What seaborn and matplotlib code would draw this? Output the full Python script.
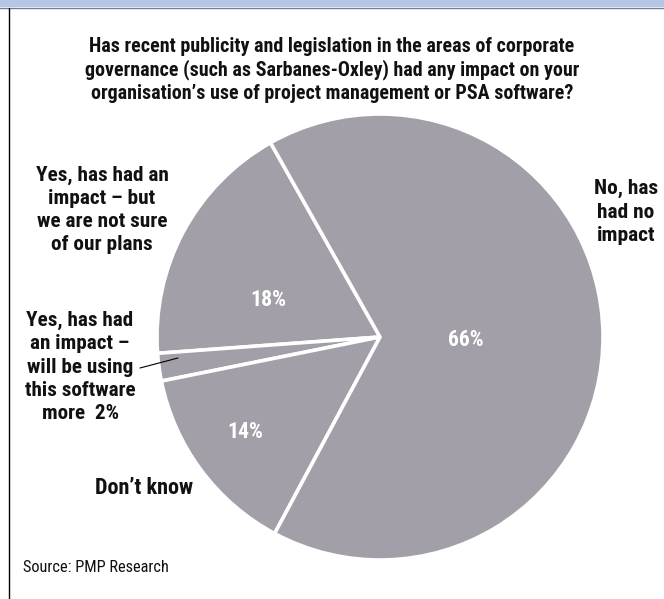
import matplotlib
matplotlib.use("Agg")
import matplotlib.pyplot as plt
import seaborn as sns
from matplotlib import font_manager
from matplotlib.patches import Rectangle
from matplotlib.lines import Line2D

# Data
categories = ["Yes, has had an impact \u2013 but we are not sure of our plans",
              "Yes, has had an impact \u2013 will be using this software more",
              "Don\u2019t know",
              "No, has had no impact"]
values = [18, 2, 14, 66]
pct_labels = ["18%", "", "14%", "66%"]

title = ("Has recent publicity and legislation in the areas of corporate\n"
         "governance (such as Sarbanes-Oxley) had any impact on your\n"
         "organisation\u2019s use of project management or PSA software?")

sns.set_theme(style="white")
available = {f.name for f in font_manager.fontManager.ttflist}
FAM = None
for cand in ["Liberation Sans Narrow", "DejaVu Sans Condensed", "Roboto Condensed",
             "Open Sans Condensed", "Roboto", "Liberation Sans"]:
    if cand in available:
        FAM = cand
        break
FONT = [FAM, "DejaVu Sans"] if FAM else ["DejaVu Sans"]
plt.rcParams["font.family"] = FONT

W, H = 664, 599
fig = plt.figure(figsize=(W / 100, H / 100), dpi=100)
fig.patch.set_facecolor("white")
renderer = fig.canvas.get_renderer()

def fx(x):
    return x / W

def fy(y):
    return 1 - y / H

def fit(t, target):
    for _ in range(3):
        w = t.get_window_extent(renderer=renderer).width
        t.set_fontsize(t.get_fontsize() * target / w)
    return t

HEAVY = 900

# top blue bar and left border
fig.add_artist(Rectangle((0, fy(7)), 1, 7 / H, transform=fig.transFigure,
                         facecolor="#b4c6e3", edgecolor="none"))
fig.add_artist(Line2D([0, 1], [fy(7.5), fy(7.5)], transform=fig.transFigure,
                      color="#6d7f9c", lw=1.0))
fig.add_artist(Line2D([fx(8.5), fx(8.5)], [fy(8), 0], transform=fig.transFigure,
                      color="black", lw=1.0))

# pie
cx, cy, r = 380, 337, 223
ax = fig.add_axes([fx(cx - r), fy(cy + r), 2 * r / W, 2 * r / H])
color = "#a39fa8"
wedges, _ = ax.pie(values, colors=[color] * len(values), startangle=119.4,
                   counterclock=True,
                   wedgeprops=dict(edgecolor="white", linewidth=2.6))
for w in wedges:
    w.set_clip_on(False)
ax.set_xlim(-1, 1)
ax.set_ylim(-1, 1)
ax.set_aspect("auto")
ax.axis("off")

# title
tt = fig.text(fx(332), fy(70), title, ha="center", va="center", fontsize=13,
              fontweight=HEAVY, linespacing=1.22, color="#111111")
fit(tt, 494)

lab_kw = dict(ha="center", va="center", fontsize=12.5, fontweight=HEAVY,
              linespacing=1.28, color="#111111")
t1 = fig.text(fx(102), fy(210), "Yes, has had an\nimpact \u2013 but\nwe are not sure\nof our plans", **lab_kw)
fit(t1, 133)
t2 = fig.text(fx(626), fy(212), "No, has\nhad no\nimpact", **lab_kw)
fit(t2, 64)
t3 = fig.text(fx(80), fy(367), "Yes, has had\nan impact \u2013\nwill be using\nthis software\nmore  2%", **lab_kw)
fit(t3, 111)
t4 = fig.text(fx(144), fy(488), "Don\u2019t know", **lab_kw)
fit(t4, 98)

pct_kw = dict(ha="center", va="center", fontsize=12.5, fontweight=HEAVY, color="white")
pct_pos = [(268, 300), None, (245, 432), (466, 340)]
for lab, pos in zip(pct_labels, pct_pos):
    if pos is not None and lab:
        fit(fig.text(fx(pos[0]), fy(pos[1]), lab, **pct_kw), 36)

# leader line for 2%
fig.add_artist(Line2D([fx(140), fx(178)], [fy(368), fy(358)],
                      transform=fig.transFigure, color="black", lw=0.8))

ts = fig.text(fx(23), fy(568), "Source: PMP Research", ha="left", va="center",
              fontsize=10.5, color="#111111")
fit(ts, 146)

fig.savefig("out.png", dpi=100, facecolor="white")
